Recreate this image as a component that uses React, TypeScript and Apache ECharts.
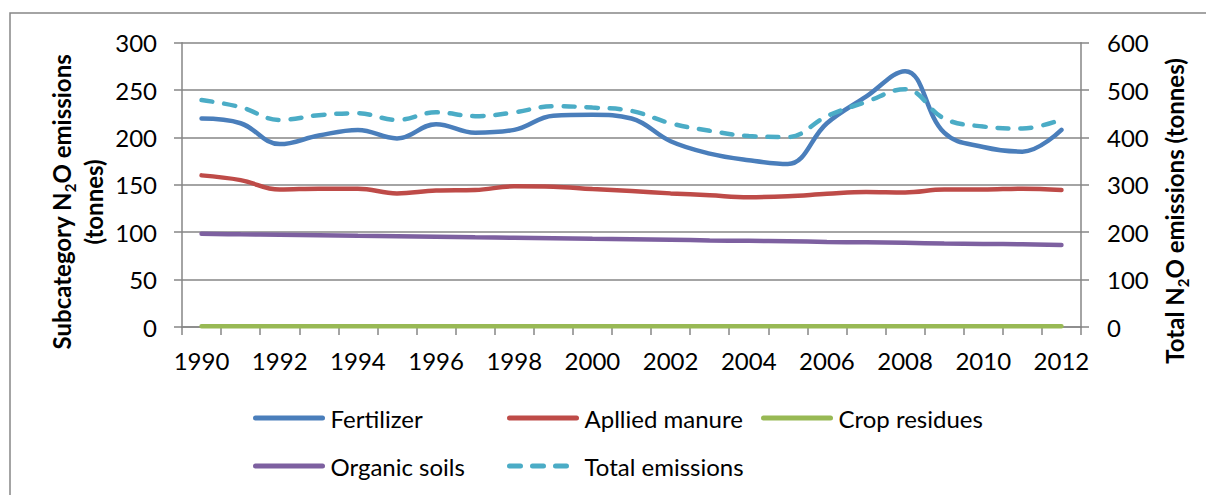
import React, { useEffect, useRef } from "react";
import * as echarts from "echarts";

const years = ["1990","1991","1992","1993","1994","1995","1996","1997","1998","1999","2000","2001","2002","2003","2004","2005","2006","2007","2008","2009","2010","2011","2012"];
const fertilizer = [220, 215, 193, 202, 208, 199, 214, 205, 208, 223, 224, 220, 196, 183, 176, 172, 215, 243, 270, 205, 190, 185, 208];
const appliedManure = [160, 155, 145, 146, 146, 141, 144, 144.5, 148.5, 148, 145.5, 143.5, 141, 139, 137, 138, 140.5, 142.5, 142, 145, 145, 146, 144.5];
const cropResidues = [0.8, 0.8, 0.8, 0.8, 0.8, 0.8, 0.8, 0.8, 0.8, 0.8, 0.8, 0.8, 0.8, 0.8, 0.8, 0.8, 0.8, 0.8, 0.8, 0.8, 0.8, 0.8, 0.8];
const organicSoils = [98.4, 97.8, 97.3, 96.8, 96.2, 95.7, 95.2, 94.6, 94.1, 93.6, 93.0, 92.5, 92.0, 91.4, 90.9, 90.4, 89.8, 89.3, 88.8, 88.2, 87.7, 87.2, 86.6];
const totalEmissions = [479, 464, 437, 447, 451, 437, 453, 445, 453, 466, 463, 456, 430, 414, 403, 401, 445, 475, 502, 440, 423, 419, 438];
const leftTicks = [0, 300, 50];
const rightTicks = [0, 600, 100];

const FONT = "Lato, 'Liberation Sans', sans-serif";
const GRAY = "#868686";

export default function App() {
  const ref = useRef<HTMLDivElement>(null);
  useEffect(() => {
    if (!ref.current) return;
    const chart = echarts.init(ref.current, null, { renderer: "svg" });
    const lineSeries = (name: string, data: number[], color: string, yAxisIndex = 0, dashed = false) => ({
      name,
      type: "line",
      data,
      yAxisIndex,
      smooth: 0.4,
      symbol: "none",
      lineStyle: {
        color,
        width: 4.5,
        type: dashed ? [11, 12] : "solid",
        cap: "round",
      },
      itemStyle: { color },
    });
    const titleRich = {
      b: { fontFamily: FONT, fontWeight: "bold", fontSize: 24, color: "#000", lineHeight: 32 },
      s: { fontFamily: FONT, fontWeight: "bold", fontSize: 15, color: "#000", verticalAlign: "bottom", lineHeight: 26 },
    };
    chart.setOption({
      animation: false,
      backgroundColor: "#fff",
      grid: { left: 182, right: 125, top: 42.7, bottom: 168, containLabel: false },
      legend: {
        left: 248,
        top: 389,
        width: 780,
        itemGap: 0,
        itemWidth: 67,
        itemHeight: 14,
        itemStyle: { opacity: 0 },
        lineStyle: { width: 5, cap: "round" },
        data: ["Fertilizer", "Apllied manure", "Crop residues", "Organic soils", "Total emissions"],
        textStyle: {
          fontFamily: FONT,
          fontSize: 24,
          color: "#000",
          width: 176.5,
          lineHeight: 48,
          padding: [0, 0, 0, 3],
        },
      },
      xAxis: {
        type: "category",
        data: years,
        boundaryGap: true,
        axisLine: { show: true, lineStyle: { color: GRAY, width: 1.5 } },
        axisTick: { show: true, interval: 0, length: 8, lineStyle: { color: GRAY, width: 1.5 } },
        axisLabel: { interval: 1, margin: 21, fontFamily: FONT, fontSize: 24, color: "#000" },
        splitLine: { show: false },
      },
      yAxis: [
        {
          type: "value",
          min: leftTicks[0],
          max: leftTicks[1],
          interval: leftTicks[2],
          position: "left",
          axisLine: { show: true, lineStyle: { color: GRAY, width: 1.5 } },
          axisTick: { show: true, length: 8, lineStyle: { color: GRAY, width: 1.5 } },
          axisLabel: { margin: 25, fontFamily: FONT, fontSize: 24, color: "#000" },
          splitLine: { show: true, lineStyle: { color: GRAY, width: 1.5 } },
        },
        {
          type: "value",
          min: rightTicks[0],
          max: rightTicks[1],
          interval: rightTicks[2],
          position: "right",
          axisLine: { show: true, lineStyle: { color: GRAY, width: 1.5 } },
          axisTick: { show: true, length: 8, lineStyle: { color: GRAY, width: 1.5 } },
          axisLabel: { margin: 26, fontFamily: FONT, fontSize: 24, color: "#000" },
          splitLine: { show: false },
        },
      ],
      graphic: [
        {
          type: "rect",
          shape: { x: 10, y: 13, width: 1220, height: 500 },
          style: { fill: "none", stroke: GRAY, lineWidth: 1.5 },
          silent: true,
        },
        {
          type: "text",
          x: 77,
          y: 202,
          rotation: Math.PI / 2,
          style: {
            text: "{b|Subcategory N}{s|2}{b|O emissions}\n{b|(tonnes)}",
            rich: titleRich,
            align: "center",
            verticalAlign: "middle",
          },
        },
        {
          type: "text",
          x: 1174,
          y: 211,
          rotation: Math.PI / 2,
          style: {
            text: "{b|Total N}{s|2}{b|O emissions (tonnes)}",
            rich: titleRich,
            align: "center",
            verticalAlign: "middle",
          },
        },
      ],
      series: [
        lineSeries("Fertilizer", fertilizer, "#4A7EBB"),
        lineSeries("Apllied manure", appliedManure, "#BE4B48"),
        lineSeries("Crop residues", cropResidues, "#98B954"),
        lineSeries("Organic soils", organicSoils, "#7D60A0"),
        lineSeries("Total emissions", totalEmissions, "#4BACC6", 1, true),
      ],
    });
    return () => chart.dispose();
  }, []);
  return (
    <div
      ref={ref}
      style={{ position: "fixed", left: 0, top: 0, width: 1206, height: 495, background: "#fff" }}
    />
  );
}
